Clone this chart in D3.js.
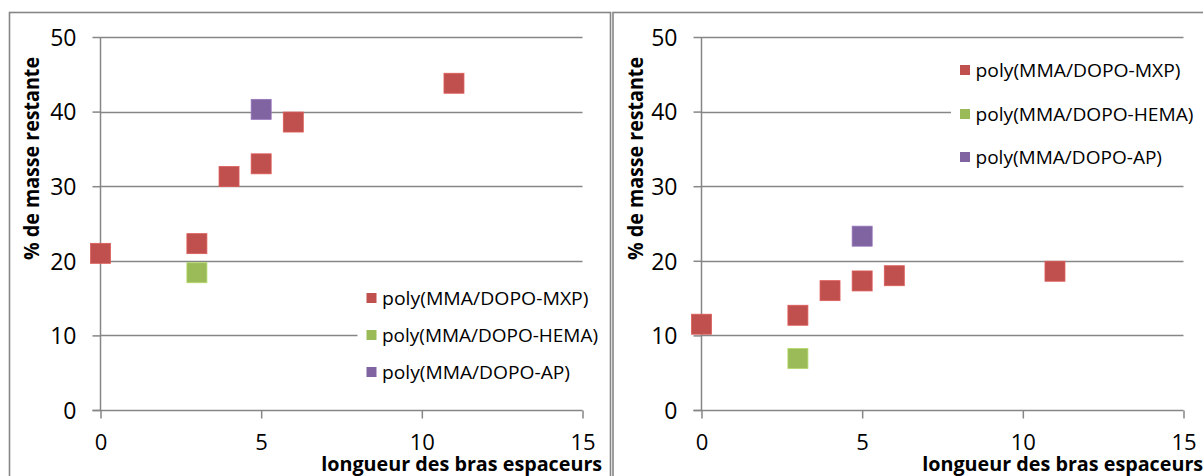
<!DOCTYPE html>
<html>
<head>
<meta charset="utf-8">
<script src="https://cdn.jsdelivr.net/npm/d3@7"></script>
<style>
  html, body { margin: 0; padding: 0; background: #fff; overflow: hidden; }
  svg { display: block; }
  text { font-family: "Open Sans", "Noto Sans", sans-serif; fill: #000; }
</style>
</head>
<body>
<svg id="chart" width="1203" height="476"></svg>
<script>
// ---- Data ----
const seriesNames = ["poly(MMA/DOPO-MXP)", "poly(MMA/DOPO-HEMA)", "poly(MMA/DOPO-AP)"];
const seriesColors = ["#C0504D", "#9BBB59", "#8064A2"];

// Left chart
const leftMXP_x = [0, 3, 4, 5, 6, 11];
const leftMXP_y = [21.0, 22.3, 31.3, 33.0, 38.6, 43.8];
const leftHEMA_x = [3];
const leftHEMA_y = [18.4];
const leftAP_x = [5];
const leftAP_y = [40.3];

// Right chart
const rightMXP_x = [0, 3, 4, 5, 6, 11];
const rightMXP_y = [11.5, 12.7, 16.0, 17.3, 18.0, 18.6];
const rightHEMA_x = [3];
const rightHEMA_y = [6.9];
const rightAP_x = [5];
const rightAP_y = [23.3];

const xTicks = [0, 5, 10, 15];
const yTicks = [0, 10, 20, 30, 40, 50];
const xTitle = "longueur des bras espaceurs";
const yTitle = "% de masse restante";

// ---- Drawing ----
const svg = d3.select("#chart");
const gridColor = "#868686";

function zip(xs, ys) { return xs.map((x, i) => ({x: x, y: ys[i]})); }

function drawChart(cfg) {
  const g = svg.append("g");
  // frame
  g.append("rect")
    .attr("x", cfg.frameX).attr("y", 12.5)
    .attr("width", cfg.frameW).attr("height", 500)
    .attr("fill", "#fff").attr("stroke", gridColor).attr("stroke-width", 1.6);

  const x = d3.scaleLinear().domain([0, 15]).range([cfg.plotX, cfg.plotX + 482]);
  const y = d3.scaleLinear().domain([0, 50]).range([410, 37]);

  // gridlines
  g.append("g").selectAll("line").data(yTicks.filter(t => t > 0)).join("line")
    .attr("x1", cfg.plotX).attr("x2", x(15))
    .attr("y1", d => Math.round(y(d)) + 0.5).attr("y2", d => Math.round(y(d)) + 0.5)
    .attr("stroke", gridColor).attr("stroke-width", 1.5);

  // y axis
  const yAxis = d3.axisLeft(y).tickValues(yTicks).tickSize(8).tickPadding(16);
  const ya = g.append("g").attr("transform", `translate(${cfg.plotX},0)`).call(yAxis);
  ya.select(".domain").attr("stroke", gridColor).attr("stroke-width", 1.5).attr("d", `M0,${y(50)}V${y(0)}`);
  ya.selectAll(".tick line").attr("stroke", gridColor).attr("stroke-width", 1.5);
  ya.selectAll(".tick text").attr("font-size", 23).attr("font-family", "Open Sans").attr("fill", "#000")
    .attr("dy", "0.36em");

  // x axis
  const xAxis = d3.axisBottom(x).tickValues(xTicks).tickSize(8).tickPadding(16);
  const xa = g.append("g").attr("transform", `translate(0,${Math.round(y(0)) + 0.5})`).call(xAxis);
  xa.select(".domain").attr("stroke", gridColor).attr("stroke-width", 1.5).attr("d", `M${x(0) - 8},0H${x(15)}`);
  xa.selectAll(".tick line").attr("stroke", gridColor).attr("stroke-width", 1.5);
  xa.selectAll(".tick text").attr("font-size", 22).attr("font-family", "Open Sans").attr("fill", "#000");

  // legend background
  const lg = g.append("g");
  lg.append("rect").attr("x", cfg.legX - 9).attr("y", cfg.legY[0] - 20)
    .attr("width", 245).attr("height", cfg.legY[2] - cfg.legY[0] + 40).attr("fill", "#fff");

  // markers
  cfg.series.forEach((s, i) => {
    g.append("g").selectAll("rect").data(s).join("rect")
      .attr("x", d => x(d.x) - 10).attr("y", d => y(d.y) - 10)
      .attr("width", 20).attr("height", 20)
      .attr("fill", seriesColors[i])
      .attr("stroke", d3.color(seriesColors[i]).brighter(0.4)).attr("stroke-width", 0.8);
  });

  // legend items
  seriesNames.forEach((name, i) => {
    lg.append("rect").attr("x", cfg.legX).attr("y", cfg.legY[i] - 5)
      .attr("width", 10).attr("height", 10).attr("fill", seriesColors[i]);
    lg.append("text").attr("x", cfg.legX + 15.5).attr("y", cfg.legY[i])
      .attr("dy", "0.36em").attr("font-size", 19)
      .attr("textLength", cfg.legW[i]).attr("lengthAdjust", "spacingAndGlyphs")
      .text(name);
  });

  // axis titles
  g.append("text").attr("x", cfg.plotX + 220.7).attr("y", 471)
    .attr("font-size", 20).attr("font-weight", "bold")
    .attr("textLength", 281).attr("lengthAdjust", "spacingAndGlyphs")
    .text(xTitle);
  g.append("text")
    .attr("transform", `translate(${cfg.frameX + 22},${158.5}) rotate(-90)`)
    .attr("text-anchor", "middle").attr("dy", "0.36em")
    .attr("font-size", 21).attr("font-weight", "bold")
    .attr("textLength", 203).attr("lengthAdjust", "spacingAndGlyphs")
    .text(yTitle);
}

drawChart({
  frameX: 9.5, frameW: 601, plotX: 100.5,
  legX: 366.5, legY: [298, 335, 372], legW: [206.5, 216, 188],
  series: [zip(leftMXP_x, leftMXP_y), zip(leftHEMA_x, leftHEMA_y), zip(leftAP_x, leftAP_y)]
});
drawChart({
  frameX: 613, frameW: 601, plotX: 701.5,
  legX: 960, legY: [70, 114, 157], legW: [205, 218, 186.5],
  series: [zip(rightMXP_x, rightMXP_y), zip(rightHEMA_x, rightHEMA_y), zip(rightAP_x, rightAP_y)]
});
</script>
</body>
</html>
